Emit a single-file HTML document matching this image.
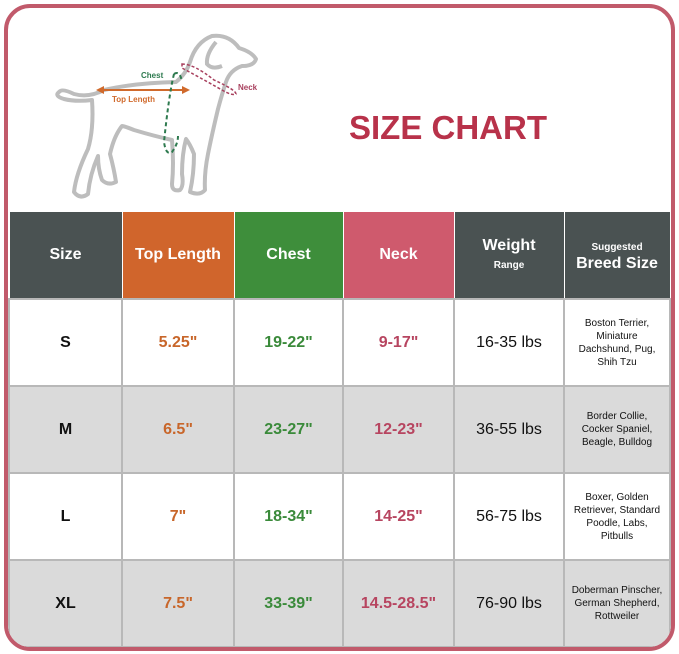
<!DOCTYPE html>
<html><head><style>
*{margin:0;padding:0;box-sizing:border-box}
body{width:679px;height:654px;background:#fff;font-family:"Liberation Sans",sans-serif;position:relative;overflow:hidden}
.frame{position:absolute;left:4px;top:4px;width:671px;height:647px;border:4px solid #c15a6b;border-radius:26px;overflow:hidden;background:#fff}
.title{position:absolute;left:341px;top:101px;font-size:33px;font-weight:bold;color:#b8324a;letter-spacing:0px}
table{position:absolute;left:0;top:204px;border-collapse:collapse;width:663px}
td{border:2px solid #b8b8b8;text-align:center;vertical-align:middle;font-size:16px;font-weight:bold}
tr.h td{height:87px;color:#fff;border-color:#fff;border-width:0 1px;font-size:16px}
tr.r td{height:87px}
tr.g td{background:#dadada}
.dk{background:#4a5252}
.or{color:#c8662a}.gr{color:#3a8a3a}.pk{color:#b74560}
.br{font-size:10px;font-weight:normal;line-height:13px;color:#111}
.w{font-weight:normal;color:#111;font-size:16px}
.s{color:#111;font-size:16px}
</style></head><body>
<div class="frame">
<svg width="300" height="210" style="position:absolute;left:-8px;top:-8px" fill="none">
<g transform="translate(4,4)">
<path d="M55 88 Q58 84 70 90 Q85 94 100 86 Q130 79 172 78 Q182 70 186 58 Q192 38 208 32 Q225 30 235 44 Q248 48 252 55 Q250 62 238 62 Q226 66 222 78 Q218 90 214 105 Q208 130 204 150 Q200 170 201 186 Q196 192 186 188 Q190 170 190 150 Q186 140 182 135 Q178 150 178 170 Q180 182 176 186 Q168 188 168 180 Q170 160 168 136 Q150 132 130 126 Q120 122 118 122 Q110 132 106 150 Q110 165 112 178 Q104 182 98 176 Q94 165 94 152 Q86 170 84 190 Q76 196 70 188 Q72 170 84 145 Q90 125 88 96 Q72 98 60 95 Q50 92 55 88 Z" stroke="#bdbdbd" stroke-width="4" stroke-linejoin="round"/>
<path d="M212 38 Q202 50 203 60 Q208 66 218 62" stroke="#bdbdbd" stroke-width="4"/>
<path d="M95 86 L182 86" stroke="#d06a2c" stroke-width="2"/>
<path d="M92 86 L100 82 L100 90Z M186 86 L178 82 L178 90Z" fill="#d06a2c"/>
<text x="108" y="98" font-size="8" fill="#d06a2c" font-family="Liberation Sans" font-weight="bold">Top Length</text>
<text x="137" y="74" font-size="8" fill="#2e7a4f" font-family="Liberation Sans" font-weight="bold">Chest</text>
<path d="M170 70 Q165 90 160 138 Q162 152 168 148 Q174 140 174 132 M170 70 Q176 66 178 78" stroke="#2e7a4f" stroke-width="2" stroke-dasharray="4 3"/>
<path d="M178 60 Q190 60 210 76 Q232 86 232 90 Q228 92 218 86 Q195 73 178 64Z" stroke="#a8405e" stroke-width="1.5" stroke-dasharray="3 2"/>
<text x="234" y="86" font-size="8" fill="#a8405e" font-family="Liberation Sans" font-weight="bold">Neck</text>
</g>
</svg>
<div class="title">SIZE CHART</div>
<table>
<tr class="h"><td class="dk" style="width:113px">Size</td><td style="background:#d0652c;width:112px">Top Length</td><td style="background:#3e8e3b;width:109px">Chest</td><td style="background:#cf5a6d;width:111px">Neck</td><td class="dk" style="width:110px">Weight<br><span style="font-size:10px">Range</span></td><td class="dk"><span style="font-size:10px">Suggested</span><br>Breed Size</td></tr>
<tr class="r"><td class="s">S</td><td class="or">5.25"</td><td class="gr">19-22"</td><td class="pk">9-17"</td><td class="w">16-35 lbs</td><td class="br">Boston Terrier,<br>Miniature<br>Dachshund, Pug,<br>Shih Tzu</td></tr>
<tr class="r g"><td class="s">M</td><td class="or">6.5"</td><td class="gr">23-27"</td><td class="pk">12-23"</td><td class="w">36-55 lbs</td><td class="br">Border Collie,<br>Cocker Spaniel,<br>Beagle, Bulldog</td></tr>
<tr class="r"><td class="s">L</td><td class="or">7"</td><td class="gr">18-34"</td><td class="pk">14-25"</td><td class="w">56-75 lbs</td><td class="br">Boxer, Golden<br>Retriever, Standard<br>Poodle, Labs,<br>Pitbulls</td></tr>
<tr class="r g"><td class="s">XL</td><td class="or">7.5"</td><td class="gr">33-39"</td><td class="pk">14.5-28.5"</td><td class="w">76-90 lbs</td><td class="br">Doberman Pinscher,<br>German Shepherd,<br>Rottweiler</td></tr>
</table>
</div>
</body></html>
